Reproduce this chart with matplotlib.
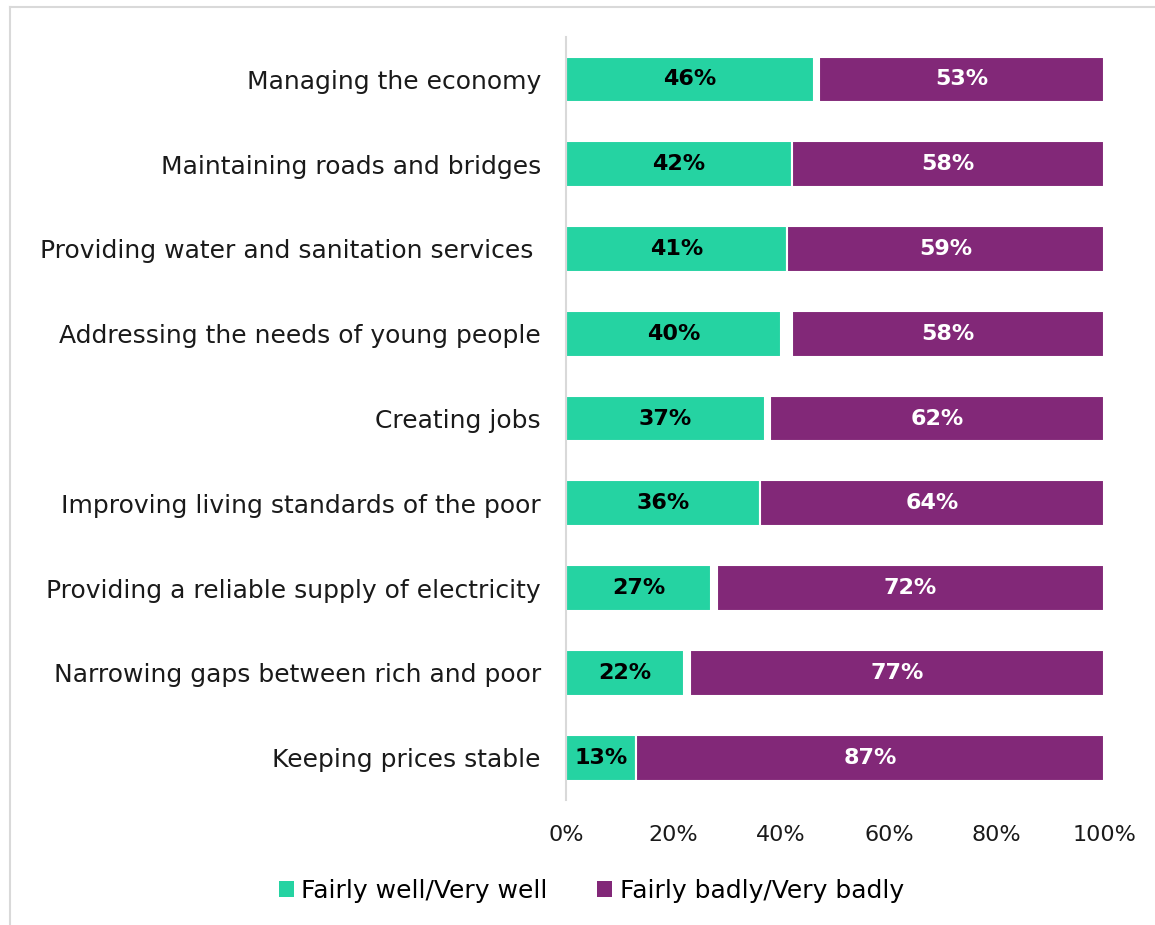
import matplotlib.pyplot as plt
from matplotlib.lines import Line2D
from matplotlib.patches import Patch

plt.rcParams['font.family'] = 'DejaVu Sans'

topics = [
    'Managing the economy',
    'Maintaining roads and bridges',
    'Providing water and sanitation services ',
    'Addressing the needs of young people',
    'Creating jobs',
    'Improving living standards of the poor',
    'Providing a reliable supply of electricity',
    'Narrowing gaps between rich and poor',
    'Keeping prices stable',
]
well = [46, 42, 41, 40, 37, 36, 27, 22, 13]
badly = [53, 58, 59, 58, 62, 64, 72, 77, 87]

GREEN = '#25d3a2'
PURPLE = '#822878'

fig = plt.figure(figsize=(11.55, 9.25), dpi=100)
ax = fig.add_axes([0.490, 0.135, 0.466, 0.825])

ys = list(range(len(topics)))
# badly bars are right-aligned at 100, leaving room for don't-know answers
badly_left = [100 - b for b in badly]
ax.barh(ys, well, height=0.54, color=GREEN, edgecolor='white', linewidth=1.5)
ax.barh(ys, badly, left=badly_left, height=0.54, color=PURPLE,
        edgecolor='white', linewidth=1.5)

for y, w, b, bl in zip(ys, well, badly, badly_left):
    ax.text(w / 2, y, f'{w}%', ha='center', va='center', fontsize=16,
            fontweight='bold', color='black')
    ax.text(bl + b / 2, y, f'{b}%', ha='center', va='center', fontsize=16,
            fontweight='bold', color='white')

ax.set_xlim(0, 100)
ax.set_ylim(len(topics) - 0.5, -0.5)
ax.set_yticks(ys)
ax.set_yticklabels(topics, fontsize=18, color='#1a1a1a')
ax.set_xticks([0, 20, 40, 60, 80, 100])
ax.set_xticklabels(['0%', '20%', '40%', '60%', '80%', '100%'], fontsize=16,
                   color='#1a1a1a')
ax.tick_params(axis='y', length=0, pad=18)
ax.tick_params(axis='x', length=0, pad=18)
for side in ['top', 'right', 'bottom']:
    ax.spines[side].set_visible(False)
ax.spines['left'].set_color('#d9d9d9')
ax.spines['left'].set_linewidth(1.5)

handles = [Patch(facecolor=GREEN, label='Fairly well/Very well'),
           Patch(facecolor=PURPLE, label='Fairly badly/Very badly')]
fig.legend(handles=handles, loc='center', bbox_to_anchor=(0.512, 0.037),
           ncol=2, frameon=False, fontsize=18, handlelength=0.6,
           handleheight=0.6, handletextpad=0.3, columnspacing=2.0)

# thin frame around the chart area
fig.add_artist(Line2D([10 / 1155, 10 / 1155], [0, 1 - 7 / 925],
                      transform=fig.transFigure, color='#d9d9d9', lw=1.5))
fig.add_artist(Line2D([10 / 1155, 1], [1 - 7 / 925, 1 - 7 / 925],
                      transform=fig.transFigure, color='#d9d9d9', lw=1.5))

fig.savefig('out.png', dpi=100)
